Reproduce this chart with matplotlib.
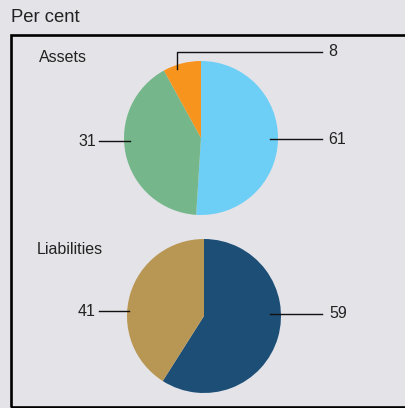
import matplotlib
matplotlib.use("Agg")
import matplotlib.pyplot as plt
from matplotlib.patches import Rectangle

plt.rcParams['font.family'] = ['Liberation Sans', 'DejaVu Sans']

# Data
title = "Per cent"
asset_names = ["Assets", "Liabilities"]
assets_shares = [51, 41, 8]          # slice sizes as drawn in the reference
assets_labels = ["61", "31", "8"]    # printed label values
liab_shares = [59, 41]
liab_labels = ["59", "41"]

assets_colors = ["#6dcff6", "#75b78b", "#f7941d"]
liab_colors = ["#1d4f76", "#b89653"]
bg = "#e4e3e8"
txt = "#222222"

W, H = 406, 408
fig = plt.figure(figsize=(W / 100, H / 100), dpi=100, facecolor=bg)
ax = fig.add_axes([0, 0, 1, 1])
ax.set_facecolor(bg)

def Y(y):
    return H - y

# Pies
ax.pie(assets_shares, colors=assets_colors, startangle=90, counterclock=False,
       center=(201, Y(138)), radius=77, frame=True,
       wedgeprops=dict(linewidth=0))
ax.pie(liab_shares, colors=liab_colors, startangle=90, counterclock=False,
       center=(204, Y(316)), radius=77, frame=True,
       wedgeprops=dict(linewidth=0))

ax.set_xlim(0, W)
ax.set_ylim(0, H)
ax.set_aspect('auto')
ax.axis('off')

# Frame box
ax.add_patch(Rectangle((11, Y(406.5)), 450, 406.5 - 35, fill=False,
                       edgecolor="black", linewidth=1.9, clip_on=True))

# Title
ax.text(11, Y(17), title, fontsize=13.3, color=txt, va='center', ha='left')
ax.text(39, Y(58), asset_names[0], fontsize=11.5, color=txt, va='center', ha='left')
ax.text(37, Y(250), asset_names[1], fontsize=11.5, color=txt, va='center', ha='left')

lw = 1.0
lc = "#111111"
# Assets leaders
ax.plot([270, 322], [Y(139), Y(139)], color=lc, lw=lw)
ax.text(328, Y(139), assets_labels[0], fontsize=11.5, color=txt, va='center', ha='left')
ax.plot([99, 130], [Y(141), Y(141)], color=lc, lw=lw)
ax.text(96, Y(141), assets_labels[1], fontsize=11.5, color=txt, va='center', ha='right')
ax.plot([177, 177, 322], [Y(69), Y(52), Y(52)], color=lc, lw=lw)
ax.text(328, Y(51), assets_labels[2], fontsize=11.5, color=txt, va='center', ha='left')

# Liabilities leaders
ax.plot([270, 322], [Y(314), Y(314)], color=lc, lw=lw)
ax.text(329, Y(313), liab_labels[0], fontsize=11.5, color=txt, va='center', ha='left')
ax.plot([99, 129], [Y(311), Y(311)], color=lc, lw=lw)
ax.text(96, Y(312), liab_labels[1], fontsize=11.5, color=txt, va='center', ha='right')

fig.savefig("out.png", dpi=100, facecolor=bg)
